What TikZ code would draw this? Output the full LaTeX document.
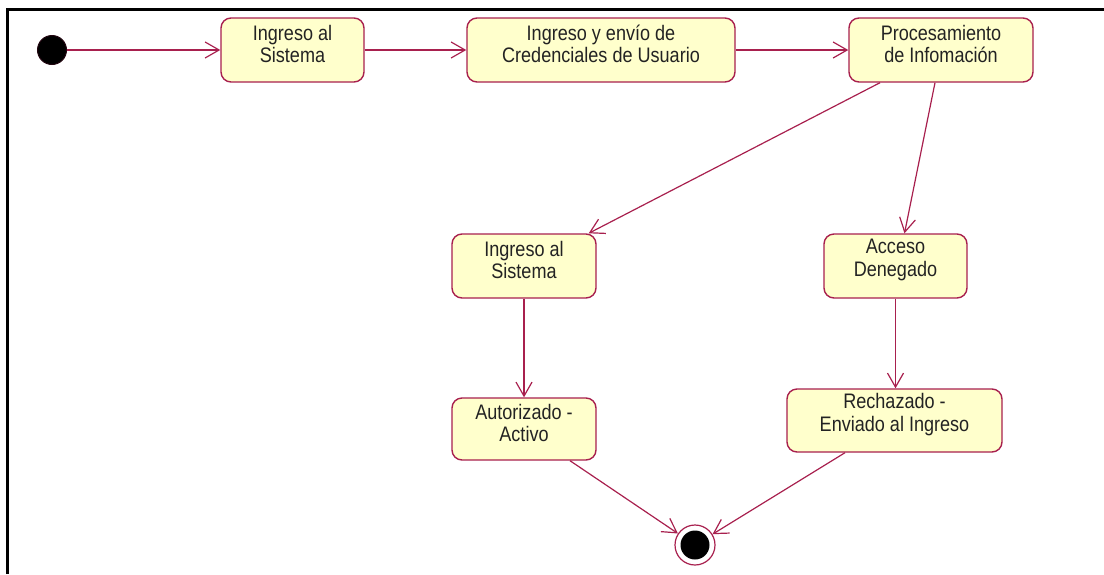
\documentclass[tikz,border=0pt]{standalone}
\usepackage{fontspec}
\setmainfont{Liberation Sans}[FakeStretch=0.86]
\usetikzlibrary{arrows.meta}
\definecolor{umlred}{RGB}{168,32,78}
\definecolor{umlfill}{RGB}{255,255,204}
\definecolor{umltext}{RGB}{35,35,35}
\tikzset{
  statebox/.style={rectangle, rounded corners=10pt, draw=umlred, line width=1.4pt,
    fill=umlfill, inner sep=0pt},
  txt/.style={align=center, inner sep=0pt, text=umltext,
    font=\fontsize{21}{22.5}\selectfont},
  flow/.style={draw=umlred, line width=1.2pt,
    -{Straight Barb[length=14pt,width=16pt,line width=1.2pt]}},
  initdot/.style={circle, fill=black, draw=black!80!umlred, line width=1pt,
    minimum size=29pt, inner sep=0pt},
  finaldot/.style={circle, draw=umlred, line width=1.2pt, fill=white,
    minimum size=40pt, inner sep=0pt,
    path picture={\fill[black] (path picture bounding box.center) circle (14.5pt);}}
}
\begin{document}
\begin{tikzpicture}[x=1pt,y=-1pt]
\useasboundingbox (0,0) rectangle (1104,574);
% frame
\draw[black, line width=2.4pt] (7.5,574) -- (7.5,9.5) -- (1104,9.5);

% nodes
\node[initdot] (init) at (52,50) {};
\node[statebox, minimum width=143pt, minimum height=64pt] (b1) at (292.5,50) {};
\node[txt, yshift=6pt] (t1) at (b1) {Ingreso al\\Sistema};
\node[statebox, minimum width=268pt, minimum height=64pt] (b2) at (601,50) {};
\node[txt, yshift=6pt] (t2) at (b2) {Ingreso y envío de\\Credenciales de Usuario};
\node[statebox, minimum width=184pt, minimum height=64pt] (b3) at (941,50) {};
\node[txt, yshift=6pt] (t3) at (b3) {Procesamiento\\de Infomación};
\node[statebox, minimum width=144pt, minimum height=64pt] (b4) at (524,266) {};
\node[txt, yshift=6pt] (t4) at (b4) {Ingreso al\\Sistema};
\node[statebox, minimum width=143pt, minimum height=64pt] (b5) at (895.5,266) {};
\node[txt, yshift=6pt] (t5) at (b5) {Acceso\\Denegado};
\node[statebox, minimum width=144pt, minimum height=62pt] (b6) at (524,429) {};
\node[txt, yshift=6pt] (t6) at (b6) {Autorizado -\\Activo};
\node[statebox, minimum width=215pt, minimum height=63pt] (b7) at (894.5,420.5) {};
\node[txt, yshift=6pt] (t7) at (b7) {Rechazado -\\Enviado al Ingreso};
\node[finaldot] (fin) at (695,545) {};

% connectors
\draw[flow] (init) -- (b1);
\draw[flow] (b1) -- (b2);
\draw[flow] (b2) -- (b3);
\draw[flow] ([xshift=-61pt]b3.south) -- ([xshift=-8pt]b4.north east);
\draw[flow] ([xshift=-6pt]b3.south) -- ([xshift=9pt]b5.north);
\draw[flow] (b4.south) -- (b6.north);
\draw[flow] (b5.south) -- (b5.south |- b7.north);
\draw[flow] ([xshift=46pt]b6.south) -- (fin);
\draw[flow] ([xshift=-49.5pt]b7.south) -- (fin);
\end{tikzpicture}
\end{document}
